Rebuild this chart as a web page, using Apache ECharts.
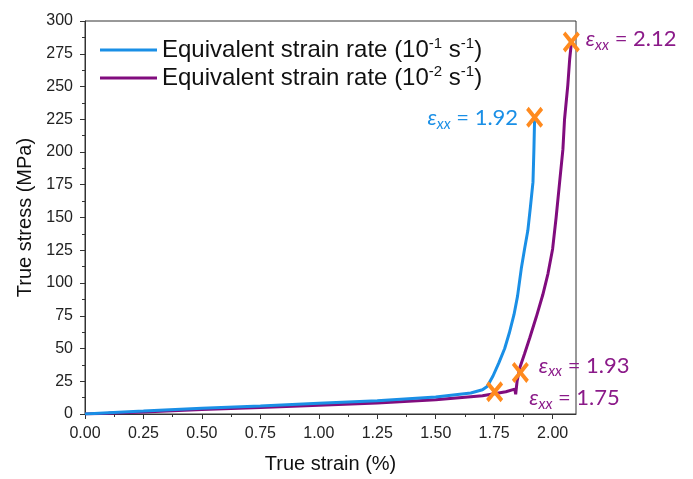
<!DOCTYPE html>
<html>
<head>
<meta charset="utf-8">
<script src="https://cdn.jsdelivr.net/npm/echarts@6/dist/echarts.min.js"></script>
<style>
  html, body { margin: 0; padding: 0; background: #fff; }
  #grafico { width: 693px; height: 479px; }
</style>
</head>
<body>
<div id="grafico"></div>
<script>
// curve: true strain (%) / true stress (MPa)
var blueStrain = [0, 0.1, 0.25, 0.5, 0.75, 1.0, 1.25, 1.5, 1.65, 1.70, 1.72, 1.745, 1.77, 1.795, 1.815, 1.835, 1.85, 1.866, 1.88, 1.894, 1.905, 1.916, 1.92, 1.923];
var blueStress = [0, 0.9, 2.2, 4.4, 6.2, 8.2, 10.2, 13.0, 16.0, 18.5, 21, 29, 39, 50, 62, 76, 90, 111, 126, 140, 158, 177, 202, 226];

var purpleStrain = [0, 0.1, 0.25, 0.5, 0.75, 1.0, 1.25, 1.5, 1.7, 1.8, 1.838, 1.842, 1.848, 1.86, 1.88, 1.902, 1.93, 1.958, 1.98, 2.0, 2.015, 2.03, 2.044, 2.051, 2.065, 2.073, 2.08];
var purpleStress = [0, 0.6, 1.6, 3.4, 5.0, 6.6, 8.4, 10.8, 14.0, 17.0, 19.0, 15.0, 25, 35.5, 46, 58, 74, 91, 107, 126, 150, 177, 202, 225, 251, 271, 283];

// orange crosses and their labels
var markStrain = [1.923, 2.08, 1.862, 1.752];
var markStress = [226.5, 284, 31.7, 17];
var markText = ['1.92', '2.12', '1.93', '1.75'];

var legendExp = ['-1', '-2'];
var seriesNames = ['Equivalent strain rate (10-1 s-1)', 'Equivalent strain rate (10-2 s-1)'];

var xMajor = [0, 0.25, 0.5, 0.75, 1.0, 1.25, 1.5, 1.75, 2.0];
var xMinor = [0.125, 0.375, 0.625, 0.875, 1.125, 1.375, 1.625, 1.875];

var blue = '#1a8fe6';
var purple = '#810c7e';
var purpleText = '#8b1a89';
var orange = '#ff8a1e';

function pairs(xs, ys) {
  return xs.map(function (x, i) { return [x, ys[i]]; });
}

var cross = 'path://M0,3 L3,0 L10,7 L17,0 L20,3 L13,10 L20,17 L17,20 L10,13 L3,20 L0,17 L7,10 Z';
var lineIcon = 'path://M0,0 L57,0 L57,3 L0,3 Z';

var epsFont = 'Lato, "Open Sans", sans-serif';
var epsRich = {
  e: { fontSize: 22, fontStyle: 'italic', fontFamily: epsFont, lineHeight: 27, verticalAlign: 'middle' },
  x: { fontSize: 15, fontStyle: 'italic', fontFamily: epsFont, lineHeight: 15, verticalAlign: 'bottom' },
  t: { fontSize: 22, fontFamily: epsFont, lineHeight: 27, verticalAlign: 'middle' }
};

function epsLabel(txt) {
  return '{e|ε}{x|xx}{t| = ' + txt + '}';
}

// label placement for each cross
var labelPos = [
  { position: 'left', distance: 8, offset: [0, 1], color: blue },
  { position: 'right', distance: 6, offset: [0, -3], color: purpleText },
  { position: 'right', distance: 10, offset: [0, -7], color: purpleText },
  { position: 'right', distance: 26, offset: [0, 6], color: purpleText }
];

var marks = markStrain.map(function (x, i) {
  return {
    value: [x, markStress[i]],
    label: {
      show: true,
      position: labelPos[i].position,
      distance: labelPos[i].distance,
      offset: labelPos[i].offset,
      color: labelPos[i].color,
      formatter: epsLabel(markText[i]),
      rich: epsRich
    }
  };
});

var chartDom = document.getElementById('grafico');
var myChart = echarts.init(chartDom);
var option;
option = {
  animation: false,
  grid: {
    left: 85, right: 117, top: 21, bottom: 63,
    show: true, borderColor: '#333', borderWidth: 1
  },
  legend: {
    data: seriesNames,
    orient: 'vertical',
    left: 95,
    top: 31,
    icon: lineIcon,
    itemWidth: 57,
    itemHeight: 3,
    itemGap: 2,
    formatter: function (name) {
      var k = seriesNames.indexOf(name);
      return '{a|Equivalent strain rate (10}{s|' + legendExp[k] + '}{a| s}{s|-1}{a|)}';
    },
    textStyle: {
      color: '#111',
      fontFamily: 'Liberation Sans',
      rich: {
        a: { fontSize: 24, lineHeight: 28, fontFamily: 'Liberation Sans', color: '#111' },
        s: { fontSize: 15, lineHeight: 15, verticalAlign: 'top', fontFamily: 'Liberation Sans', color: '#111' }
      }
    }
  },
  xAxis: [
    {
      type: 'value',
      min: 0, max: 2.1,
      name: 'True strain (%)',
      nameLocation: 'middle',
      nameGap: 40,
      nameTextStyle: { fontSize: 20, fontFamily: 'Liberation Sans', color: '#111' },
      axisLine: { lineStyle: { color: '#333', width: 1 } },
      axisTick: { show: true, customValues: xMajor, length: 5, lineStyle: { color: '#333' } },
      axisLabel: {
        customValues: xMajor, margin: 12,
        fontSize: 16, fontFamily: 'Liberation Sans', color: '#222',
        formatter: function (v) { return v.toFixed(2); }
      },
      splitLine: { show: false }
    },
    {
      type: 'value',
      min: 0, max: 2.1,
      position: 'bottom',
      axisLine: { show: false },
      axisTick: { show: true, customValues: xMinor, length: 3, lineStyle: { color: '#333' } },
      axisLabel: { show: false },
      splitLine: { show: false }
    }
  ],
  yAxis: {
    type: 'value',
    min: 0, max: 300, interval: 25,
    name: 'True stress (MPa)',
    nameLocation: 'middle',
    nameGap: 46,
    nameTextStyle: { fontSize: 20, fontFamily: 'Liberation Sans', color: '#111' },
    axisLine: { show: true, lineStyle: { color: '#333', width: 1 } },
    axisTick: { show: true, length: 5, lineStyle: { color: '#333' } },
    minorTick: { show: true, splitNumber: 2, length: 3, lineStyle: { color: '#333' } },
    axisLabel: { margin: 12, fontSize: 16, fontFamily: 'Liberation Sans', color: '#222' },
    splitLine: { show: false }
  },
  series: [
    {
      name: seriesNames[0],
      type: 'line',
      data: pairs(blueStrain, blueStress),
      symbol: 'none',
      lineStyle: { color: blue, width: 3 },
      itemStyle: { color: blue },
      z: 3
    },
    {
      name: seriesNames[1],
      type: 'line',
      data: pairs(purpleStrain, purpleStress),
      symbol: 'none',
      lineStyle: { color: purple, width: 3 },
      itemStyle: { color: purple },
      z: 2
    },
    {
      name: 'marks',
      type: 'scatter',
      data: marks,
      symbol: cross,
      symbolSize: [17, 21],
      itemStyle: { color: orange, opacity: 1 },
      z: 5
    }
  ]
};

option && myChart.setOption(option);
</script>
</body>
</html>
